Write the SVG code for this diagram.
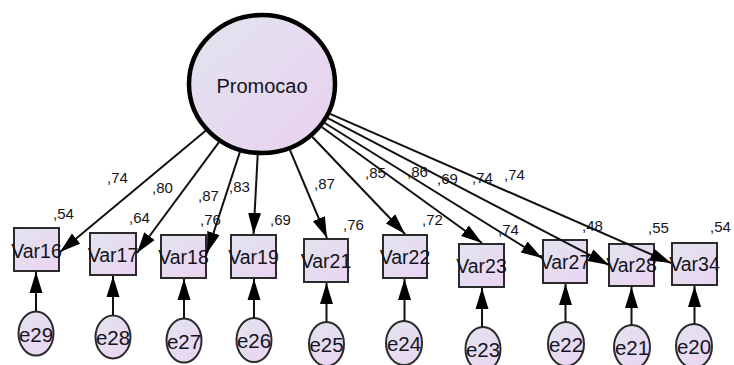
<svg xmlns="http://www.w3.org/2000/svg" width="734" height="365" viewBox="0 0 734 365">
  <style>
    text { font-family: "Liberation Sans", Arial, sans-serif; fill: #141420; }
    .obs { fill: url(#boxFill); stroke: #2b2b2b; stroke-width: 2; }
    .err { fill: url(#boxFill); stroke: #2b2b2b; stroke-width: 2; }
    .lat { fill: url(#latFill); stroke: #000; stroke-width: 4.5; }
    .vname { font-size: 19.5px; text-anchor: middle; }
    .ename { font-size: 20.5px; text-anchor: middle; }
    .coef { font-size: 15px; }
    .path { stroke: #111; stroke-width: 2; fill: none; marker-end: url(#head); }
  </style>
  <defs>
    <linearGradient id="boxFill" x1="0" y1="0" x2="1" y2="1">
      <stop offset="0" stop-color="#e1e5ee"/>
      <stop offset="1" stop-color="#ecd3f2"/>
    </linearGradient>
    <linearGradient id="latFill" x1="0" y1="0" x2="1" y2="1">
      <stop offset="0" stop-color="#e2e5ee"/>
      <stop offset="1" stop-color="#e9d0f1"/>
    </linearGradient>
    <marker id="head" markerUnits="userSpaceOnUse" markerWidth="21" markerHeight="14" refX="21" refY="7" orient="auto">
      <path d="M0,0.5 L21,7 L0,13.5 z" fill="#000"/>
    </marker>
  </defs>

  <!-- latent factor -->
  <g id="Promocao">
    <ellipse class="lat" cx="262" cy="84" rx="73" ry="69"/>
    <text x="262" y="93" style="font-size:20px;text-anchor:middle">Promocao</text>
  </g>

  <!-- observed indicators -->
  <g id="Var16"><rect class="obs" x="14" y="228" width="45" height="43"/><text class="vname" x="36.5" y="258">Var16</text></g>
  <g id="Var17"><rect class="obs" x="90" y="233" width="46" height="42"/><text class="vname" x="113" y="262">Var17</text></g>
  <g id="Var18"><rect class="obs" x="161" y="235" width="45" height="43"/><text class="vname" x="183.5" y="264">Var18</text></g>
  <g id="Var19"><rect class="obs" x="231" y="235" width="45" height="43"/><text class="vname" x="253.5" y="264">Var19</text></g>
  <g id="Var21"><rect class="obs" x="304" y="239" width="44" height="43"/><text class="vname" x="326" y="268">Var21</text></g>
  <g id="Var22"><rect class="obs" x="383" y="235" width="44" height="43"/><text class="vname" x="405" y="264">Var22</text></g>
  <g id="Var23"><rect class="obs" x="459" y="244" width="45" height="43"/><text class="vname" x="481.5" y="273">Var23</text></g>
  <g id="Var27"><rect class="obs" x="543" y="240" width="44" height="43"/><text class="vname" x="565" y="269">Var27</text></g>
  <g id="Var28"><rect class="obs" x="609" y="244" width="45" height="42"/><text class="vname" x="631.5" y="272">Var28</text></g>
  <g id="Var34"><rect class="obs" x="672" y="243" width="45" height="42"/><text class="vname" x="694.5" y="271">Var34</text></g>

  <!-- error terms -->
  <g id="e29"><ellipse class="err" cx="36" cy="333.5" rx="17.5" ry="22"/><text class="ename" x="36" y="341.5">e29</text></g>
  <g id="e28"><ellipse class="err" cx="113" cy="337" rx="17.5" ry="21.5"/><text class="ename" x="113" y="345">e28</text></g>
  <g id="e27"><ellipse class="err" cx="184" cy="340.5" rx="17.5" ry="22"/><text class="ename" x="184" y="348.5">e27</text></g>
  <g id="e26"><ellipse class="err" cx="254" cy="340" rx="17.5" ry="22"/><text class="ename" x="254" y="348">e26</text></g>
  <g id="e25"><ellipse class="err" cx="326.5" cy="344" rx="17.5" ry="22"/><text class="ename" x="326.5" y="352">e25</text></g>
  <g id="e24"><ellipse class="err" cx="404" cy="343" rx="18" ry="22"/><text class="ename" x="404" y="351">e24</text></g>
  <g id="e23"><ellipse class="err" cx="483" cy="349" rx="17.5" ry="22"/><text class="ename" x="483" y="357">e23</text></g>
  <g id="e22"><ellipse class="err" cx="566" cy="344" rx="18" ry="22"/><text class="ename" x="566" y="352">e22</text></g>
  <g id="e21"><ellipse class="err" cx="632" cy="347" rx="18" ry="22"/><text class="ename" x="632" y="355">e21</text></g>
  <g id="e20"><ellipse class="err" cx="694" cy="346" rx="18" ry="22"/><text class="ename" x="694" y="354">e20</text></g>

  <!-- squared multiple correlations -->
  <g id="r2">
    <text class="coef" x="53" y="219">,54</text>
    <text class="coef" x="129" y="223">,64</text>
    <text class="coef" x="200" y="225">,76</text>
    <text class="coef" x="270" y="225">,69</text>
    <text class="coef" x="343" y="230">,76</text>
    <text class="coef" x="422" y="225">,72</text>
    <text class="coef" x="498" y="235">,74</text>
    <text class="coef" x="582" y="231">,48</text>
    <text class="coef" x="648" y="233">,55</text>
    <text class="coef" x="710" y="232">,54</text>
  </g>

  <!-- standardized loadings -->
  <g id="loadings">
    <text class="coef" x="107" y="183">,74</text>
    <text class="coef" x="152" y="193">,80</text>
    <text class="coef" x="198" y="201">,87</text>
    <text class="coef" x="229" y="192">,83</text>
    <text class="coef" x="314" y="189">,87</text>
    <text class="coef" x="365" y="178">,85</text>
    <text class="coef" x="407" y="177">,86</text>
    <text class="coef" x="437" y="184">,69</text>
    <text class="coef" x="472" y="183">,74</text>
    <text class="coef" x="504" y="180">,74</text>
  </g>

  <!-- connectors -->
  <g id="connectors">
    <line class="path" x1="205.6" y1="130.8" x2="60" y2="252"/>
    <line class="path" x1="219" y1="142.1" x2="137" y2="253"/>
    <line class="path" x1="239.9" y1="151.9" x2="207" y2="253"/>
    <line class="path" x1="257.7" y1="154.9" x2="253.5" y2="234"/>
    <line class="path" x1="289.9" y1="149.9" x2="327" y2="238"/>
    <line class="path" x1="312.2" y1="136.7" x2="405" y2="234"/>
    <line class="path" x1="321.7" y1="127" x2="482" y2="243"/>
    <line class="path" x1="324.7" y1="123" x2="542" y2="258"/>
    <line class="path" x1="327.7" y1="118.2" x2="609" y2="265"/>
    <line class="path" x1="330.1" y1="113.9" x2="671" y2="263"/>

    <line class="path" x1="36" y1="311" x2="36" y2="272"/>
    <line class="path" x1="113" y1="315" x2="113" y2="276"/>
    <line class="path" x1="184" y1="318" x2="184" y2="279"/>
    <line class="path" x1="254" y1="318" x2="254" y2="279"/>
    <line class="path" x1="326.5" y1="322" x2="326.5" y2="283"/>
    <line class="path" x1="404.5" y1="321" x2="404.5" y2="279"/>
    <line class="path" x1="482" y1="327" x2="482" y2="288"/>
    <line class="path" x1="565.5" y1="322" x2="565.5" y2="284"/>
    <line class="path" x1="631.5" y1="325" x2="631.5" y2="287"/>
    <line class="path" x1="694.5" y1="324" x2="694.5" y2="286"/>
  </g>
</svg>
